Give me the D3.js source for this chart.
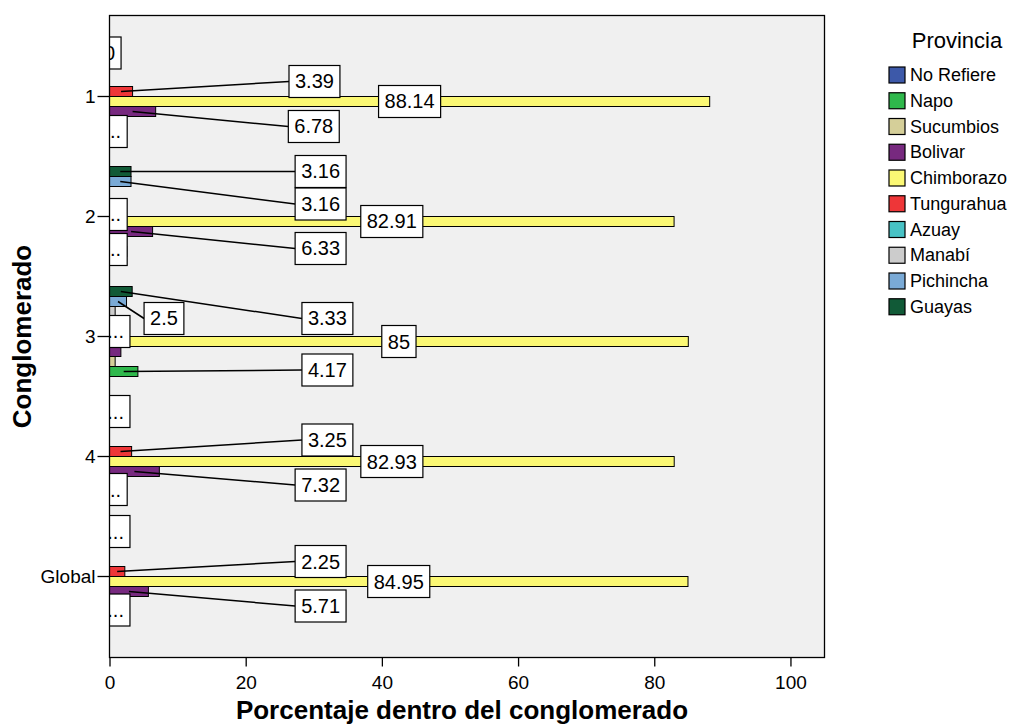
<!DOCTYPE html>
<html>
<head>
<meta charset="utf-8">
<script src="https://cdn.jsdelivr.net/npm/d3@7"></script>
<style>
  body { margin: 0; background: #ffffff; }
  svg { display: block; font-family: "Liberation Sans", Arial, sans-serif; }
</style>
</head>
<body>
<svg id="chart" width="1024" height="726"></svg>
<script>
// ---- data -------------------------------------------------------------
const clusters = ["1", "2", "3", "4", "Global"];
const provinces = ["No Refiere", "Napo", "Sucumbios", "Bolivar", "Chimborazo",
                   "Tungurahua", "Azuay", "Manabí", "Pichincha", "Guayas"];
const provinceColors = ["#3d59a9", "#2fb84c", "#d5cf99", "#77297f", "#fbf874",
                        "#ee3638", "#48c2c5", "#cccccc", "#7aaad6", "#115a37"];

// percentage of each province inside each cluster (province order above)
const pct1      = [0, 1.69, 0,    6.78, 88.14, 3.39, 0, 0,    0,    0];
const pct2      = [0, 2.53, 0,    6.33, 82.91, 1.90, 0, 0,    3.16, 3.16];
const pct3      = [0, 4.17, 0.83, 1.67, 85,    1.67, 0, 0.83, 2.5,  3.33];
const pct4      = [0, 2.44, 0,    7.32, 82.93, 3.25, 0, 0,    1.63, 2.44];
const pctGlobal = [0, 1.96, 0,    5.71, 84.95, 2.25, 0, 0,    1.74, 1.96];
const clusterValues = [pct1, pct2, pct3, pct4, pctGlobal];

const xTicks = [0, 20, 40, 60, 80, 100];

// ---- label placement ----------------------------------------------------
// small values get a boxed label off to the side with a leader line:
// x in percent units, dy in bar heights from the bar centre
const labelSpots = [
  { c: "1", p: "Tungurahua", x: 30.1, dy: -1.0 },
  { c: "1", p: "Bolivar",    x: 30.0, dy: 1.5 },
  { c: "2", p: "Guayas",     x: 31.0, dy: 0.0 },
  { c: "2", p: "Pichincha",  x: 31.0, dy: 2.25 },
  { c: "2", p: "Bolivar",    x: 31.0, dy: 1.7 },
  { c: "3", p: "Guayas",     x: 32.0, dy: 2.7 },
  { c: "3", p: "Pichincha",  x: 8.0,  dy: 1.7 },
  { c: "3", p: "Napo",       x: 32.0, dy: -0.15 },
  { c: "4", p: "Tungurahua", x: 32.0, dy: -1.15 },
  { c: "4", p: "Bolivar",    x: 31.0, dy: 1.35 },
  { c: "Global", p: "Tungurahua", x: 31.0, dy: -1.0 },
  { c: "Global", p: "Bolivar",    x: 31.0, dy: 1.45 }
];
// labels with no room for their number, pinned against the axis
const cutLabels = [
  { c: "1", p: "Guayas", text: "0",   x: 0,   dy: 0.15 },
  { c: "1", p: "Napo",   text: "..",  x: 0.9, dy: 0 },
  { c: "2", p: "Tungurahua", text: "..", x: 0.9, dy: 0.3 },
  { c: "2", p: "Napo",   text: "..",  x: 0.9, dy: -0.2 },
  { c: "3", p: "Tungurahua", text: "...", x: 0.9, dy: 0 },
  { c: "4", p: "Guayas", text: "...", x: 0.9, dy: 0 },
  { c: "4", p: "Napo",   text: "..",  x: 0.9, dy: -0.2 },
  { c: "Global", p: "Guayas", text: "...", x: 0.9, dy: 0 },
  { c: "Global", p: "Napo",   text: "...", x: 0.9, dy: -0.15 }
];

// ---- layout -----------------------------------------------------------
const frame = { left: 109.5, top: 15.5, right: 824.5, bottom: 657.5 };
const svg = d3.select("#chart");

const x = d3.scaleLinear().domain([0, 105]).range([frame.left, frame.right]);
const y = d3.scaleBand().domain(clusters)
  .range([frame.top, frame.bottom]).paddingInner(1 / 6).paddingOuter(0.2583);
const yInner = d3.scaleBand().domain(provinces.slice().reverse())
  .range([0, y.bandwidth()]);
const color = d3.scaleOrdinal().domain(provinces).range(provinceColors);

const rows = [];
clusters.forEach((c, ci) => {
  provinces.forEach((p, pi) => {
    rows.push({ c, p, v: clusterValues[ci][pi] });
  });
});
const rowOf = (c, p) => rows.find(r => r.c === c && r.p === p);
const barMid = r => y(r.c) + yInner(r.p) + yInner.bandwidth() / 2;

// plot background
svg.append("rect")
  .attr("x", frame.left).attr("y", frame.top)
  .attr("width", frame.right - frame.left).attr("height", frame.bottom - frame.top)
  .attr("fill", "#f0f0f0");

svg.append("clipPath").attr("id", "plotClip")
  .append("rect")
  .attr("x", frame.left).attr("y", frame.top)
  .attr("width", frame.right - frame.left).attr("height", frame.bottom - frame.top);

const plot = svg.append("g").attr("clip-path", "url(#plotClip)");

// bars
plot.append("g").selectAll("rect")
  .data(rows.filter(r => r.v > 0))
  .join("rect")
  .attr("x", x(0))
  .attr("y", r => y(r.c) + yInner(r.p))
  .attr("width", r => x(r.v) - x(0))
  .attr("height", yInner.bandwidth())
  .attr("fill", r => color(r.p))
  .attr("stroke", "#000")
  .attr("stroke-width", 1);

// value labels
const labelFont = 20, boxH = 32, padX = 6;
const labels = plot.append("g").attr("font-size", labelFont);

function boxedText(g, cx, cy, text) {
  const box = g.append("rect").attr("fill", "#fff").attr("stroke", "#000").attr("stroke-width", 1.2);
  const t = g.append("text")
    .attr("x", cx).attr("y", cy)
    .attr("text-anchor", "middle").attr("dominant-baseline", "central")
    .attr("fill", "#000").text(text);
  const w = t.node().getComputedTextLength() + padX * 2;
  box.attr("x", cx - w / 2).attr("y", cy - boxH / 2).attr("width", w).attr("height", boxH);
  return { left: cx - w / 2, width: w };
}

// large bars carry their label in the middle of the bar
rows.filter(r => r.v >= 20).forEach(r => {
  boxedText(labels.append("g"), (x(0) + x(r.v)) / 2, barMid(r), String(r.v));
});

// side labels with leader lines
const leaders = labels.append("g");
labelSpots.forEach(s => {
  const r = rowOf(s.c, s.p);
  const cy = barMid(r) + s.dy * yInner.bandwidth();
  const line = leaders.append("line")
    .attr("x1", (x(0) + x(r.v)) / 2).attr("y1", barMid(r))
    .attr("stroke", "#000").attr("stroke-width", 1.5);
  const b = boxedText(labels.append("g"), x(s.x), cy, String(r.v));
  line.attr("x2", b.left).attr("y2", cy);
});

// labels cut against the axis
cutLabels.forEach(s => {
  const r = rowOf(s.c, s.p);
  boxedText(labels.append("g"), x(s.x), barMid(r) + s.dy * yInner.bandwidth(), s.text);
});

// frame
svg.append("rect")
  .attr("x", frame.left).attr("y", frame.top)
  .attr("width", frame.right - frame.left).attr("height", frame.bottom - frame.top)
  .attr("fill", "none").attr("stroke", "#000").attr("stroke-width", 1.3);

// axes
const xAxis = svg.append("g")
  .attr("transform", `translate(0,${frame.bottom})`)
  .call(d3.axisBottom(x).tickValues(xTicks).tickSize(9).tickPadding(9).tickFormat(d3.format("d")));
xAxis.select(".domain").remove();
xAxis.selectAll("line").attr("stroke", "#000").attr("stroke-width", 1.3);
xAxis.selectAll("text").attr("font-size", 19).attr("fill", "#000")
  .attr("font-family", "Liberation Sans, Arial, sans-serif");

const yAxis = svg.append("g")
  .attr("transform", `translate(${frame.left},0)`)
  .call(d3.axisLeft(y).tickSize(12).tickPadding(2));
yAxis.select(".domain").remove();
yAxis.selectAll("line").attr("stroke", "#000").attr("stroke-width", 1.3);
yAxis.selectAll("text").attr("font-size", 19).attr("fill", "#000")
  .attr("font-family", "Liberation Sans, Arial, sans-serif");

// axis titles
svg.append("text")
  .attr("x", (frame.left + frame.right) / 2 - 5).attr("y", 719)
  .attr("text-anchor", "middle")
  .attr("font-size", 26).attr("font-weight", "bold")
  .text("Porcentaje dentro del conglomerado");

svg.append("text")
  .attr("transform", `translate(22,${(frame.top + frame.bottom) / 2}) rotate(-90)`)
  .attr("text-anchor", "middle").attr("dominant-baseline", "central")
  .attr("font-size", 26).attr("font-weight", "bold")
  .text("Conglomerado");

// legend
const legend = svg.append("g");
legend.append("text")
  .attr("x", 957).attr("y", 40)
  .attr("text-anchor", "middle").attr("dominant-baseline", "central")
  .attr("font-size", 22).text("Provincia");

const items = legend.selectAll("g.item")
  .data(provinces)
  .join("g").attr("class", "item")
  .attr("transform", (d, i) => `translate(889,${75 + i * 25.75})`);
items.append("rect")
  .attr("x", 0).attr("y", -8).attr("width", 16).attr("height", 16)
  .attr("fill", d => color(d)).attr("stroke", "#000").attr("stroke-width", 1.2);
items.append("text")
  .attr("x", 21).attr("y", 0).attr("dominant-baseline", "central")
  .attr("font-size", 18).text(d => d);
</script>
</body>
</html>
